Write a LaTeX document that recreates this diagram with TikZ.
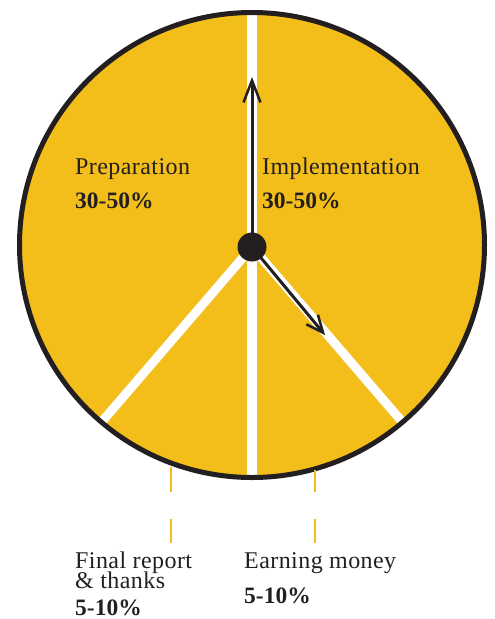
\documentclass[tikz,border=0pt]{standalone}
\usepackage{fontspec}
\setmainfont{Liberation Serif}
\newfontfamily\spaced[LetterSpace=1.8]{Liberation Serif}
\usetikzlibrary{arrows.meta}
\definecolor{pieyellow}{HTML}{F3BD1A}
\definecolor{ink}{HTML}{231F20}
\tikzset{
  lbl/.style={anchor=base west, inner sep=0pt, text=ink, font=\spaced\fontsize{24}{24}\selectfont},
  pct/.style={anchor=base west, inner sep=0pt, text=ink, font=\fontsize{23.5}{23.5}\selectfont\bfseries},
  divider/.style={draw=white, line width=10pt},
  pointer/.style={draw=ink, line width=3pt},
  leader/.style={draw=pieyellow, line width=2pt}
}
\begin{document}
\begin{tikzpicture}[x=1pt,y=-1pt]
\useasboundingbox (0,0) rectangle (495,619);
% pie body
\node[circle, fill=pieyellow, inner sep=0pt, minimum size=465pt] (c) at (252,245) {};
% white dividers
\coordinate (ctr) at (252,247);
\coordinate (top) at (252,14);
\coordinate (bot) at (252,476);
\coordinate (ll) at (102.5,421);
\coordinate (lr) at (401.5,421);
\draw[divider] (top) -- (bot);
\draw[divider, line width=9pt] (ctr) -- (ll);
\draw[divider, line width=9pt] (ctr) -- (lr);
% border
\draw[draw=ink, line width=5pt] (c.center) circle[radius=232.5];
% pointers
\coordinate (up) at (252,77);
\coordinate (dn) at (325,335);
\draw[pointer, -{Straight Barb[length=22pt, width=17pt, line width=2.5pt]}] (ctr) -- (up);
\draw[pointer, -{Straight Barb[length=17pt, width=15pt, line width=2.5pt]}] (ctr) -- (dn);
\node[circle, fill=ink, inner sep=0pt, minimum size=29pt] (dot) at (ctr) {};
% leaders
\coordinate (a1) at (171,467);
\coordinate (a2) at (171,543);
\coordinate (b1) at (315,470);
\coordinate (b2) at (315,543);
\draw[leader, dash pattern=on 25pt off 27pt on 24pt off 10pt] (a1) -- (a2);
\draw[leader, dash pattern=on 22pt off 27pt on 24pt off 10pt] (b1) -- (b2);
% labels
\node[lbl] (prep) at (75,174) {Preparation};
\node[pct] (prepp) at (75,208) {30-50\%};
\node[lbl] (impl) at (262,174) {Implementation};
\node[pct] (implp) at (262,208) {30-50\%};
\node[lbl] (fin1) at (75,568) {Final report};
\node[lbl] (fin2) at (75,588) {\& thanks};
\node[pct] (finp) at (75,615) {5-10\%};
\node[lbl] (earn) at (244,568) {Earning money};
\node[pct] (earnp) at (244,603) {5-10\%};
\end{tikzpicture}
\end{document}
